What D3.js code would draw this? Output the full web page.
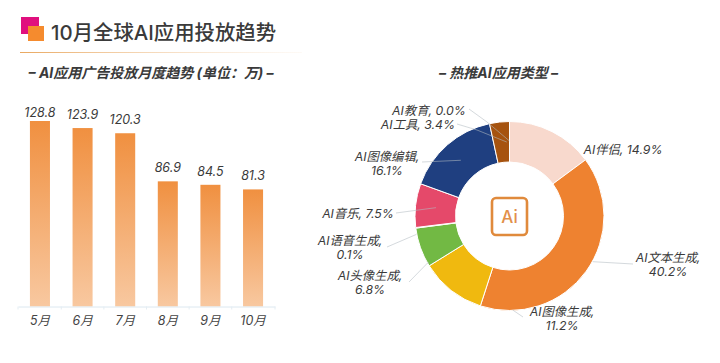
<!DOCTYPE html>
<html><head><meta charset="utf-8">
<script src="https://cdnjs.cloudflare.com/ajax/libs/d3/7.8.5/d3.min.js"></script>
<style>
html,body{margin:0;padding:0;background:#fff}
svg{display:block}
text{font-family:"Inter","Noto Sans CJK SC",sans-serif;fill:#3a3a3a}
.it{font-style:italic}
</style></head><body>
<svg id="c" width="720" height="363"></svg>
<script>
const months=["5月","6月","7月","8月","9月","10月"];
const monthlyValues=[128.8,123.9,120.3,86.9,84.5,81.3];
const sliceNames=["AI伴侣","AI文本生成","AI图像生成","AI头像生成","AI语音生成","AI音乐","AI图像编辑","AI工具","AI教育"];
const sliceValues=[14.9,40.2,11.2,6.8,0.1,7.5,16.1,3.4,0.0];
const sliceColors=["#F8D9CD","#EE8230","#F0B90F","#72B944","#72B944","#E5496A","#1F3F80","#A6530F","#A6530F"];
const titleText="10月全球AI应用投放趋势";
const barTitle="– AI应用广告投放月度趋势 (单位：万) –";
const pieTitle="– 热推AI应用类型 –";

const svg=d3.select("#c");
const defs=svg.append("defs");
const g1=defs.append("linearGradient").attr("id","rule");
g1.append("stop").attr("offset",0).attr("stop-color","#E9A860");
g1.append("stop").attr("offset",1).attr("stop-color","#F6DCC0").attr("stop-opacity",.15);
const g2=defs.append("linearGradient").attr("id","bar").attr("x1",0).attr("x2",0).attr("y1",0).attr("y2",1);
g2.append("stop").attr("offset",0).attr("stop-color","#F09040");
g2.append("stop").attr("offset",1).attr("stop-color","#F8C8A0");

// header
svg.append("rect").attr("x",21).attr("y",17).attr("width",18).attr("height",17).attr("fill","#E0107E");
svg.append("rect").attr("x",28).attr("y",26).attr("width",16).attr("height",15).attr("fill","#F58B2E");
svg.append("text").attr("x",51).attr("y",40).attr("font-size",20.4).attr("font-weight",500).text(titleText);
svg.append("rect").attr("x",20).attr("y",52).attr("width",282).attr("height",1).attr("fill","url(#rule)");
svg.append("text").attr("class","it").attr("x",151).attr("y",78).attr("text-anchor","middle").attr("font-size",14).attr("font-weight",700).text(barTitle);
svg.append("text").attr("class","it").attr("x",498.5).attr("y",78).attr("text-anchor","middle").attr("font-size",14).attr("font-weight",700).text(pieTitle);

// bars
const x=d3.scaleBand().domain(months).range([18,275]).paddingInner(.53).paddingOuter(.28);
const y=d3.scaleLinear().domain([0,128.8]).range([306.5,121]);
const valueLabelGap=[4,9,9,9,9,9];
svg.selectAll(".bar").data(monthlyValues).join("rect").attr("class","bar")
 .attr("x",(d,i)=>x(months[i])).attr("width",x.bandwidth())
 .attr("y",d=>y(d)).attr("height",d=>y(0)-y(d)).attr("fill","url(#bar)");
svg.selectAll(".val").data(monthlyValues).join("text").attr("class","val it")
 .attr("x",(d,i)=>x(months[i])+x.bandwidth()/2).attr("y",(d,i)=>y(d)-valueLabelGap[i])
 .attr("text-anchor","middle").attr("font-size",12.5).text(d=>d);
const ax=svg.append("g").attr("transform","translate(0,306.5)").call(d3.axisBottom(x).tickSize(0).tickPadding(10));
ax.select(".domain").attr("stroke","#DCE8F0");
ax.selectAll("text").attr("class","it").attr("font-size",12.5).attr("font-family",null).style("fill","#444");
const edges=months.map(m=>x(m)-x.step()*x.paddingInner()/2).concat([275]);
edges[0]=18;
svg.selectAll(".edge").data(edges).join("line").attr("class","edge")
 .attr("x1",d=>d).attr("x2",d=>d).attr("y1",306.5).attr("y2",309.5).attr("stroke","#E4EDF3");

// donut
const cx=509.5,cy=216,R=94.5,r0=54;
const pie=d3.pie().value(d=>d).sort(null)(sliceValues);
const arc=d3.arc().innerRadius(r0).outerRadius(R);
const donut=svg.append("g").attr("transform",`translate(${cx},${cy})`);
donut.selectAll("path").data(pie).join("path").attr("d",arc)
 .attr("fill",(d,i)=>sliceColors[i]).attr("stroke","#fff").attr("stroke-width",1);

// annotation layout, keyed by slice: label centre, leader anchor on the slice, elbow
const labelLayout=[
 {lx:623,ly:149,lines:1},
 {lx:668,ly:257,lines:2,off:-7,r:95,out:[633,264]},
 {lx:562,ly:311,lines:2,off:-40,r:94,out:[523,317]},
 {lx:370,ly:275,lines:2,off:-10,r:93,out:[409,282]},
 {lx:350,ly:240,lines:2,off:-4,r:95,out:[387,247]},
 {lx:358,ly:213,lines:1,off:0,r:74,out:[396,213]},
 {lx:387,ly:156,lines:2,off:0,r:74,out:[422,162]},
 {lx:418,ly:124,lines:1,off:4,r:74,el:[477,130],out:[457,124]},
 {lx:429,ly:110,lines:1,off:0,r:75,el:[487,122],out:[469,109]}
];
const leaders=svg.append("g").attr("fill","none").attr("stroke","#B4BCC3").attr("stroke-width",.8).attr("opacity",.7);
const labels=svg.append("g");
pie.forEach((d,i)=>{
 const L=labelLayout[i];
 const name=sliceNames[i],pct=sliceValues[i].toFixed(1)+"%";
 if(L.out){
  const a=(d.startAngle+d.endAngle)/2+(L.off*Math.PI/180);
  const pts=[[cx+L.r*Math.sin(a),cy-L.r*Math.cos(a)]];
  if(L.el)pts.push(L.el);
  pts.push(L.out);
  leaders.append("path").attr("d",d3.line()(pts));
 }
 const t=labels.append("text").attr("class","it").attr("text-anchor","middle").attr("font-size",12.3);
 if(L.lines===1){
  t.append("tspan").attr("x",L.lx).attr("y",L.ly+4.5).text(`${name}, ${pct}`);
 }else{
  t.append("tspan").attr("x",L.lx).attr("y",L.ly+4.5).text(name+",");
  t.append("tspan").attr("x",L.lx).attr("y",L.ly+19).text(pct);
 }
});

// centre icon
svg.append("rect").attr("x",cx-17.5).attr("y",cy-18).attr("width",35).attr("height",37).attr("rx",4)
 .attr("fill","#fff").attr("stroke","#E08A3C").attr("stroke-width",2.6);
svg.append("text").attr("x",cx).attr("y",cy+7).attr("text-anchor","middle").attr("font-size",17).attr("font-weight",500).style("fill","#E2904A").text("Ai");
</script>
</body></html>
